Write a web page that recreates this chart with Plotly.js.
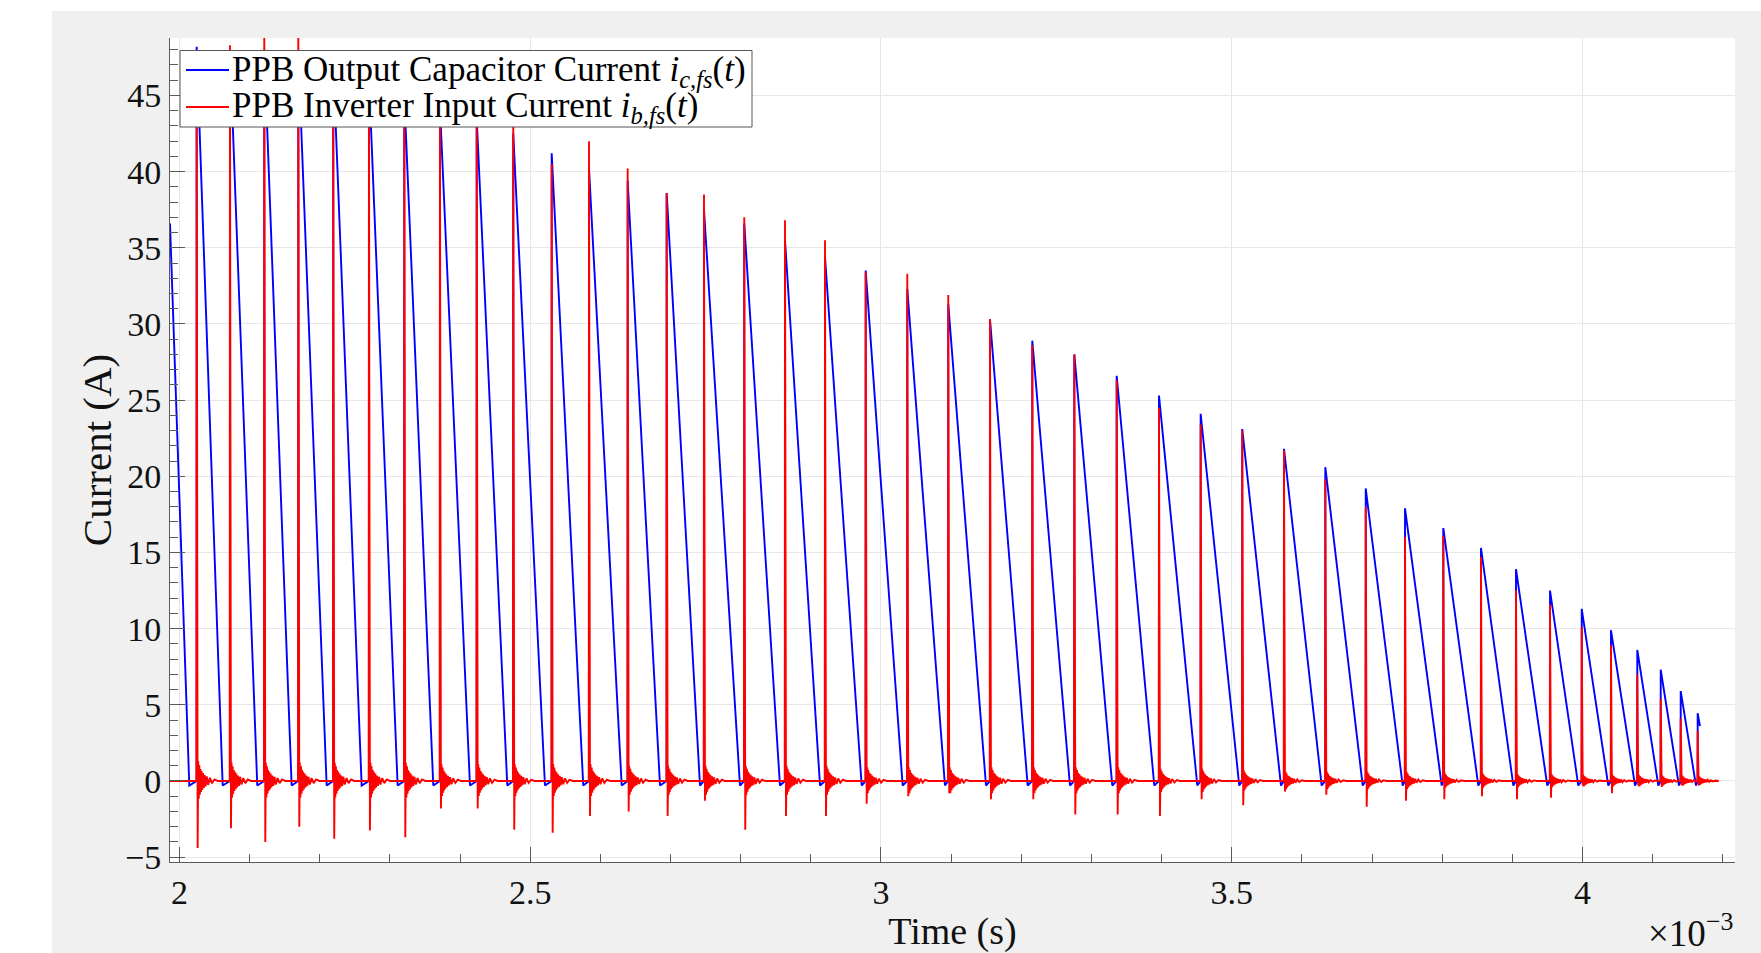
<!DOCTYPE html>
<html><head><meta charset="utf-8">
<script src="https://cdn.plot.ly/plotly-3.0.1.min.js"></script>
<style>
html,body{margin:0;padding:0;background:#ffffff;width:1761px;height:953px;overflow:hidden;}
#chart{position:absolute;left:52px;top:11px;width:1709px;height:942px;}
</style></head><body><div id="chart"></div>
<script>
// Time values are in ms (the axis carries a x10^-3 s multiplier)
const tStart = 1.9865;
const tEnd = 4.1675;
const blueStart = 36.6;
const blueEndValue = 3.6;
const blueDip = -0.3;
const preRampEnd = 2.0140;

const spikeTime = [2.0245, 2.0720, 2.1209, 2.1694, 2.2192, 2.2701, 2.3205, 2.3713, 2.4237, 2.4758,
  2.5306, 2.5838, 2.6389, 2.6945, 2.7477, 2.8051, 2.8632, 2.9202, 2.9782, 3.0375,
  3.0959, 3.1554, 3.2157, 3.2756, 3.3360, 3.3963, 3.4557, 3.5150, 3.5745, 3.6334,
  3.6910, 3.7470, 3.8016, 3.8553, 3.9052, 3.9537, 3.9989, 4.0406, 4.0781, 4.1115,
  4.1400, 4.1642];

const bluePeak = [48.2, 48.0, 48.0, 47.8, 47.2, 46.2, 45.0, 44.3, 43.5, 42.5,
  41.2, 40.2, 39.4, 38.6, 37.5, 36.6, 35.5, 34.4, 33.5, 32.3,
  31.3, 30.3, 28.9, 28.0, 26.6, 25.3, 24.1, 23.1, 21.8, 20.6,
  19.2, 17.9, 16.6, 15.3, 13.9, 12.5, 11.3, 9.9, 8.6, 7.3,
  5.9, 4.45];

const blueZero = [2.0616, 2.1109, 2.1599, 2.2098, 2.2597, 2.3110, 2.3618, 2.4141, 2.4673, 2.5210,
  2.5756, 2.6304, 2.6850, 2.7420, 2.7990, 2.8560, 2.9131, 2.9725, 3.0309, 3.0912,
  3.1497, 3.2091, 3.2694, 3.3297, 3.3896, 3.4509, 3.5107, 3.5702, 3.6282, 3.6867,
  3.7437, 3.7993, 3.8515, 3.9014, 3.9498, 3.9940, 4.0368, 4.0749, 4.1081, 4.1375,
  4.1618];

const redPeak = [45.5, 48.3, 49.5, 49.5, 46.5, 45.5, 45.0, 44.5, 44.0, 43.5,
  40.5, 42.0, 40.2, 38.6, 38.5, 37.0, 36.8, 35.5, 33.4, 33.3,
  31.9, 30.3, 28.6, 28.0, 26.3, 24.5, 23.4, 23.0, 21.7, 19.8,
  18.0, 16.0, 16.1, 14.7, 12.5, 11.6, 10.1, 8.9, 7.0, 5.4,
  4.1, 3.3];

const redMin = [-4.4, -3.1, -4.0, -3.0, -3.8, -3.25, -3.7, -1.8, -1.8, -3.2,
  -3.4, -2.3, -2.0, -2.3, -1.3, -3.2, -2.3, -2.3, -1.5, -1.0,
  -0.8, -1.2, -1.2, -2.2, -2.2, -2.3, -1.2, -1.6, -0.7, -0.9,
  -1.7, -1.3, -1.2, -1.0, -1.2, -1.1, -0.3, -0.8, -0.3, -0.4,
  -0.3, -0.3];

const ringAmp = [1.3, 1.2, 1.2, 1.2, 1.2, 1.2, 1.2, 1.1, 1.1, 1.1,
  1.1, 1.1, 1.0, 1.0, 1.0, 1.0, 1.0, 1.0, 0.9, 0.9,
  0.9, 0.9, 0.9, 0.9, 0.9, 0.8, 0.8, 0.7, 0.6, 0.6,
  0.6, 0.6, 0.5, 0.5, 0.45, 0.45, 0.4, 0.4, 0.4, 0.35,
  0.35, 0.3];

// ringing shape after each switching spike (offset in ms, relative amplitude)
const ringDt = [0.0022, 0.0030, 0.0038, 0.0046, 0.0054, 0.0062, 0.0070, 0.0080, 0.0090, 0.0102,
  0.0114, 0.0128, 0.0144, 0.0164, 0.0189, 0.0219, 0.0254];
const ringVal = [1.0, -0.9, 0.8, -0.7, 0.6, -0.55, 0.5, -0.45, 0.4, -0.35,
  0.3, -0.27, 0.23, -0.2, 0.16, -0.12, 0.08];

const xTickVals = [2, 2.5, 3, 3.5, 4];
const xTickText = ['2', '2.5', '3', '3.5', '4'];
const yTickVals = [-5, 0, 5, 10, 15, 20, 25, 30, 35, 40, 45];
const yTickText = ['\u22125', '0', '5', '10', '15', '20', '25', '30', '35', '40', '45'];

const seriesNames = ['PPB Output Capacitor Current', 'PPB Inverter Input Current'];

// ---- build traces ----
const bx = [tStart, preRampEnd], by = [blueStart, blueDip];
for (let i = 0; i < spikeTime.length; i++) {
  bx.push(spikeTime[i], spikeTime[i]);
  by.push(0, bluePeak[i]);
  if (i < blueZero.length) { bx.push(blueZero[i]); by.push(blueDip); }
  else { bx.push(tEnd); by.push(blueEndValue); }
}
const rx = [tStart], ry = [0];
for (let i = 0; i < spikeTime.length; i++) {
  const t0 = spikeTime[i];
  rx.push(t0 - 0.0004, t0, t0 + 0.0014);
  ry.push(0, redPeak[i], redMin[i]);
  for (let k = 0; k < ringDt.length; k++) {
    rx.push(t0 + ringDt[k]);
    ry.push(ringAmp[i] * ringVal[k]);
  }
  rx.push(t0 + 0.030); ry.push(0);
}
rx.push(tEnd); ry.push(0);

const FONT = 'Liberation Serif, Times New Roman, serif';
const axisCol = '#5a5a5a';
const txtCol = '#111111';
const traces = [
  {x: bx, y: by, type: 'scatter', mode: 'lines', name: seriesNames[0],
   line: {color: '#0000ff', width: 1.9, simplify: false}, showlegend: false},
  {x: rx, y: ry, type: 'scatter', mode: 'lines', name: seriesNames[1],
   line: {color: '#ff0000', width: 1.9, simplify: false}, showlegend: false}
];

function py(p) { return (862 - p) / 824; }   // pixel -> paper coords (legend placement)
function px(p) { return (p - 170) / 1565; }

const layout = {
  width: 1709, height: 942,
  margin: {l: 118, r: 26, t: 27, b: 91, pad: 0},
  paper_bgcolor: '#f0f0f0', plot_bgcolor: '#ffffff',
  showlegend: false,
  font: {family: FONT, color: txtCol},
  xaxis: {
    range: [1.9865, 4.2174], tickmode: 'array', tickvals: xTickVals, ticktext: xTickText,
    ticks: 'inside', ticklen: 15, tickwidth: 1, tickcolor: axisCol,
    showline: true, linecolor: axisCol, linewidth: 1, mirror: false,
    showgrid: true, gridcolor: '#e6e6e6', gridwidth: 1, zeroline: false,
    minor: {tickmode: 'linear', tick0: 2, dtick: 0.1, ticks: 'inside', ticklen: 8, tickcolor: axisCol, showgrid: false},
    tickfont: {family: FONT, size: 34, color: txtCol},
    ticklabelstandoff: 0,
    title: {text: 'Time (s)', font: {family: FONT, size: 38, color: txtCol}, standoff: 10}
  },
  yaxis: {
    range: [-5.32, 48.77], tickmode: 'array', tickvals: yTickVals, ticktext: yTickText,
    ticks: 'inside', ticklen: 15, tickwidth: 1, tickcolor: axisCol,
    showline: true, linecolor: axisCol, linewidth: 1, mirror: false,
    showgrid: true, gridcolor: '#e6e6e6', gridwidth: 1, zeroline: false,
    minor: {tickmode: 'linear', tick0: 0, dtick: 1, ticks: 'inside', ticklen: 8, tickcolor: axisCol, showgrid: false},
    tickfont: {family: FONT, size: 34, color: txtCol},
    ticklabelstandoff: 1,
    title: {text: 'Current (A)', font: {family: FONT, size: 41, color: txtCol}, standoff: 0}
  },
  shapes: [
    {type: 'rect', xref: 'paper', yref: 'paper', x0: px(180), x1: px(752), y0: py(127), y1: py(50.5),
     fillcolor: '#ffffff', line: {color: '#555555', width: 1}, layer: 'above'},
    {type: 'line', xref: 'paper', yref: 'paper', x0: px(186), x1: px(229), y0: py(70), y1: py(70),
     line: {color: '#0000ff', width: 1.9}},
    {type: 'line', xref: 'paper', yref: 'paper', x0: px(186), x1: px(229), y0: py(107), y1: py(107),
     line: {color: '#ff0000', width: 1.9}}
  ],
  annotations: [
    {xref: 'paper', yref: 'paper', x: px(230), y: py(71), xanchor: 'left', yanchor: 'middle', showarrow: false,
     text: seriesNames[0] + ' <i>i</i><sub><i>c,fs</i></sub>(<i>t</i>)', font: {family: FONT, size: 35, color: '#000000'}},
    {xref: 'paper', yref: 'paper', x: px(230), y: py(108), xanchor: 'left', yanchor: 'middle', showarrow: false,
     text: seriesNames[1] + ' <i>i</i><sub><i>b,fs</i></sub>(<i>t</i>)', font: {family: FONT, size: 35, color: '#000000'}},
    {xref: 'paper', yref: 'paper', x: 1, y: py(930), xanchor: 'right', yanchor: 'middle', showarrow: false,
     text: '\u00d710<sup>\u22123</sup>', font: {family: FONT, size: 37, color: txtCol}}
  ]
};

Plotly.newPlot('chart', traces, layout, {displayModeBar: false, staticPlot: true});
</script></body></html>
